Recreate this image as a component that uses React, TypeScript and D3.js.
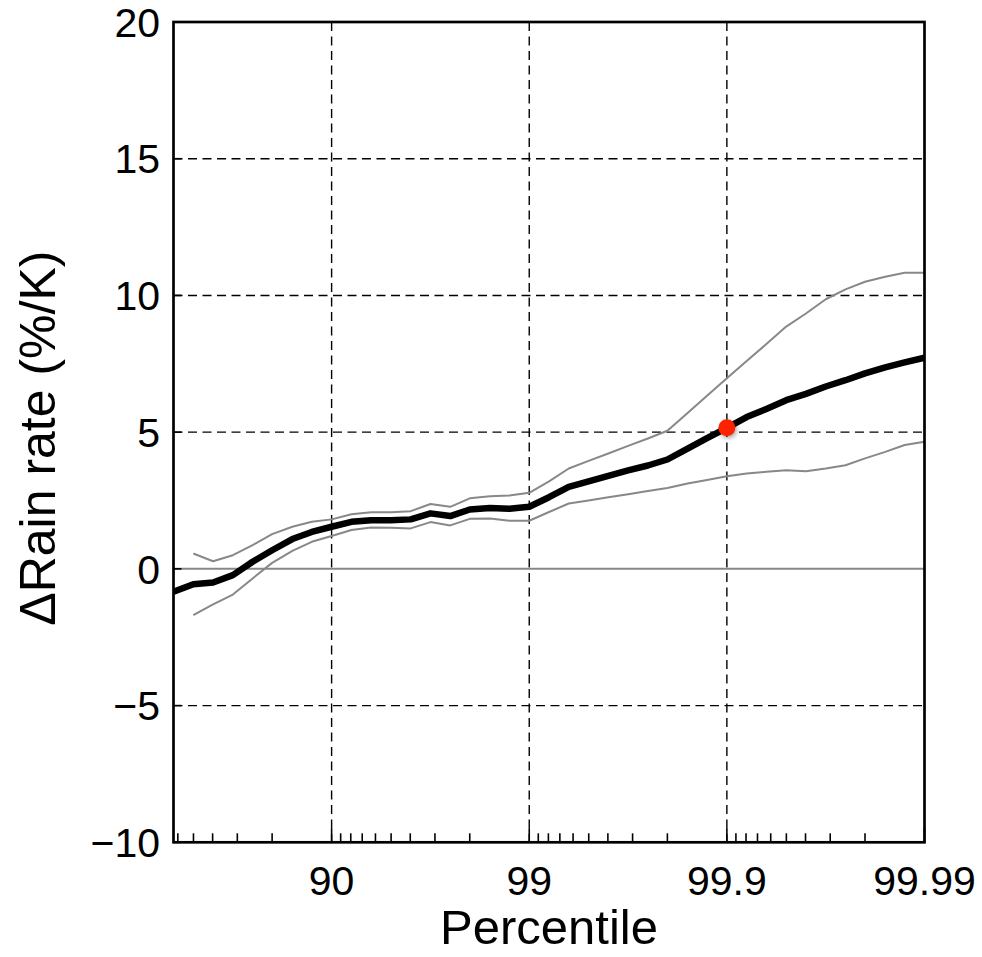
import React from "react";
import * as d3 from "d3";

// exceedance = 100 − percentile (%), read on a log grid
const exceedance = [63.1, 50.1, 39.8, 31.6, 25.1, 20.0, 15.8, 12.6, 10, 7.94, 6.31, 5.01, 3.98, 3.16, 2.51, 2.0, 1.58, 1.26, 1, 0.794, 0.631, 0.501, 0.398, 0.316, 0.251, 0.2, 0.158, 0.126, 0.1, 0.0794, 0.0631, 0.0501, 0.0398, 0.0316, 0.0251, 0.02, 0.0158, 0.0126, 0.01];

const meanRate = [-0.84, -0.56, -0.5, -0.23, 0.26, 0.68, 1.09, 1.35, 1.54, 1.72, 1.78, 1.78, 1.81, 2.03, 1.93, 2.17, 2.23, 2.2, 2.27, 2.62, 3.0, 3.2, 3.4, 3.6, 3.78, 4.0, 4.4, 4.78, 5.16, 5.55, 5.85, 6.17, 6.4, 6.67, 6.9, 7.15, 7.37, 7.55, 7.72];

const upperRate = [null, 0.56, 0.28, 0.5, 0.87, 1.27, 1.54, 1.72, 1.81, 2.0, 2.07, 2.07, 2.11, 2.37, 2.27, 2.58, 2.66, 2.68, 2.78, 3.2, 3.67, 3.95, 4.22, 4.5, 4.77, 5.05, 5.7, 6.33, 6.97, 7.6, 8.22, 8.86, 9.34, 9.86, 10.22, 10.5, 10.68, 10.83, 10.83];

const lowerRate = [null, -1.69, -1.3, -0.94, -0.35, 0.22, 0.66, 0.99, 1.2, 1.42, 1.51, 1.5, 1.48, 1.71, 1.59, 1.83, 1.84, 1.76, 1.76, 2.08, 2.39, 2.5, 2.62, 2.73, 2.85, 2.96, 3.12, 3.25, 3.39, 3.49, 3.55, 3.61, 3.57, 3.67, 3.79, 4.04, 4.28, 4.53, 4.65];

const majorX = [10, 1, 0.1, 0.01];
const majorXLabels = ["90", "99", "99.9", "99.99"];
const minorX = [60, 50, 40, 30, 20, 9, 8, 7, 6, 5, 4, 3, 2, 0.9, 0.8, 0.7, 0.6, 0.5, 0.4, 0.3, 0.2, 0.09, 0.08, 0.07, 0.06, 0.05, 0.04, 0.03, 0.02];
const yTicks = [-10, -5, 0, 5, 10, 15, 20];
const yTickLabels = ["−10", "−5", "0", "5", "10", "15", "20"];

const markerExceedance = 0.1;
const markerValue = 5.16;

const W = 982;
const H = 957;
const L = 173.5, R = 924.5, T = 22, B = 842.3;
const FONT = "'Liberation Sans', Arial, Helvetica, sans-serif";

export default function App() {
  const x = d3.scaleLog().domain([exceedance[0], exceedance[exceedance.length - 1]]).range([L, R]);
  const y = d3.scaleLinear().domain([-10, 20]).range([B, T]);

  const mk = (vals: (number | null)[]) =>
    d3.line<number>()
      .defined((_, i) => vals[i] != null)
      .x((_, i) => x(exceedance[i]))
      .y((_, i) => y(vals[i] as number))(vals.map((v) => (v == null ? 0 : v)) as number[]) || "";

  return (
    <svg width={W} height={H} style={{ position: "absolute", left: 0, top: 0, background: "#fff" }} fontFamily={FONT}>
      <defs>
        <clipPath id="plot">
          <rect x={L} y={T} width={R - L} height={B - T} />
        </clipPath>
        <filter id="shadow" x="-50%" y="-50%" width="200%" height="200%">
          <feDropShadow dx="1.5" dy="2" stdDeviation="2" floodColor="#000" floodOpacity="0.35" />
        </filter>
      </defs>
      <rect x={0} y={0} width={W} height={H} fill="#fff" />
      {/* gridlines */}
      {majorX.slice(0, 3).map((v) => (
        <line key={"gx" + v} x1={x(v)} x2={x(v)} y1={T} y2={B} stroke="#000" strokeWidth={1.4} strokeDasharray="9,5.5" />
      ))}
      {yTicks.filter((v) => v !== 0 && v !== 20 && v !== -10).map((v) => (
        <line key={"gy" + v} x1={L} x2={R} y1={y(v)} y2={y(v)} stroke="#000" strokeWidth={1.4} strokeDasharray="9,5.5" />
      ))}
      {/* zero line */}
      <line x1={L} x2={R} y1={y(0)} y2={y(0)} stroke="#888" strokeWidth={2} />
      {/* data */}
      <g clipPath="url(#plot)" fill="none" strokeLinejoin="round" strokeLinecap="butt">
        <path d={mk(upperRate)} stroke="#888" strokeWidth={2} />
        <path d={mk(lowerRate)} stroke="#888" strokeWidth={2} />
        <path d={mk(meanRate)} stroke="#000" strokeWidth={6.5} />
      </g>
      <circle cx={x(markerExceedance)} cy={y(markerValue)} r={8.5} fill="#ff2200" filter="url(#shadow)" />
      {/* ticks */}
      {minorX.map((v) => (
        <line key={"mx" + v} x1={x(v)} x2={x(v)} y1={B} y2={B - 9} stroke="#000" strokeWidth={1.6} />
      ))}
      {majorX.map((v) => (
        <line key={"Mx" + v} x1={x(v)} x2={x(v)} y1={B} y2={B - 14} stroke="#000" strokeWidth={1.6} />
      ))}
      {yTicks.map((v) => (
        <line key={"ty" + v} x1={L} x2={L + 8} y1={y(v)} y2={y(v)} stroke="#000" strokeWidth={1.6} />
      ))}
      {/* frame */}
      <rect x={L} y={T} width={R - L} height={B - T} fill="none" stroke="#000" strokeWidth={2.7} />
      {/* tick labels */}
      {majorX.map((v, i) => (
        <text key={"lx" + v} x={x(v)} y={895} textAnchor="middle" fontSize={41} fill="#000">
          {majorXLabels[i]}
        </text>
      ))}
      {yTicks.map((v, i) => (
        <text key={"ly" + v} x={160} y={y(v)} dy="0.36em" textAnchor="end" fontSize={41} fill="#000">
          {yTickLabels[i]}
        </text>
      ))}
      {/* axis titles */}
      <text x={(L + R) / 2} y={944} textAnchor="middle" fontSize={49} fill="#000">Percentile</text>
      <text transform={`translate(55, ${(T + B) / 2 + 6}) rotate(-90)`} textAnchor="middle" fontSize={50} fill="#000">
        ΔRain rate (%/K)
      </text>
    </svg>
  );
}
